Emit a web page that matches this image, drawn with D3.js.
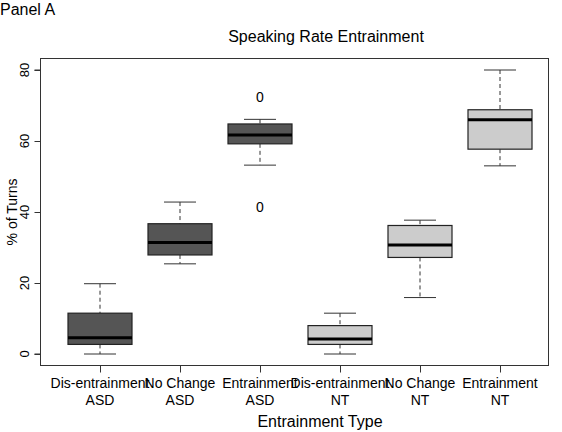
<!DOCTYPE html>
<html><head><meta charset="utf-8">
<script src="https://cdn.jsdelivr.net/npm/d3@7"></script>
<style>body{margin:0;background:#fff}text{font-family:"Liberation Sans",Arial,sans-serif;fill:#000}</style>
</head><body><svg id="c" width="562" height="432"></svg>
<script>
const categories = ["Dis-entrainment|ASD","No Change|ASD","Entrainment|ASD","Dis-entrainment|NT","No Change|NT","Entrainment|NT"];
const lowW  = [0, 25.4, 53.2, 0, 15.9, 53];
const q1    = [2.7, 27.9, 59.2, 2.7, 27.2, 57.7];
const med   = [4.6, 31.4, 61.7, 4.2, 30.7, 66.0];
const q3    = [11.5, 36.7, 64.8, 8.0, 36.2, 68.8];
const highW = [19.8, 42.8, 66.1, 11.5, 37.7, 80];
const outliers = [[],[],[72.3,41.5],[],[],[]];
const fills = ["#555555","#555555","#555555","#cccccc","#cccccc","#cccccc"];
const yTicks = [0,20,40,60,80];

const svg = d3.select("#c");
const L=40.5,R=548.5,T=58.5,B=365.5;
const y = d3.scaleLinear().domain([0,80]).range([354,70]);
const x = d3.scalePoint().domain(d3.range(6)).range([100,500]);
svg.append("rect").attr("x",L).attr("y",T).attr("width",R-L).attr("height",B-T).attr("fill","none").attr("stroke","#333");
const ya = svg.append("g").attr("transform",`translate(${L},0)`).call(d3.axisLeft(y).tickValues(yTicks).tickSize(6).tickFormat(""));
ya.select(".domain").attr("d",`M-6,${y(0)}H0V${y(80)}H-6`).attr("stroke","#333");
ya.selectAll("line").attr("stroke","#333");
yTicks.forEach(v=>svg.append("text").attr("transform",`translate(${L-12},${y(v)}) rotate(-90)`).attr("text-anchor","middle").attr("font-size",13).text(v));
const xa = svg.append("g").attr("transform",`translate(0,${B})`).call(d3.axisBottom(x).tickSize(7).tickFormat(""));
xa.select(".domain").remove();
xa.selectAll("line").attr("stroke","#333");
categories.forEach((c,i)=>{
  const p=c.split("|");
  svg.append("text").attr("x",x(i)).attr("y",388).attr("text-anchor","middle").attr("font-size",14).text(p[0]);
  svg.append("text").attr("x",x(i)).attr("y",405).attr("text-anchor","middle").attr("font-size",14).text(p[1]);
});
const bw=64, cw=32;
d3.range(6).forEach(i=>{
  const g=svg.append("g"), cx=x(i);
  g.append("line").attr("x1",cx).attr("x2",cx).attr("y1",y(highW[i])).attr("y2",y(q3[i])).attr("stroke","#333").attr("stroke-dasharray","4,3");
  g.append("line").attr("x1",cx).attr("x2",cx).attr("y1",y(q1[i])).attr("y2",y(lowW[i])).attr("stroke","#333").attr("stroke-dasharray","4,3");
  [highW[i],lowW[i]].forEach(v=>g.append("line").attr("x1",cx-cw/2).attr("x2",cx+cw/2).attr("y1",y(v)).attr("y2",y(v)).attr("stroke","#333"));
  g.append("rect").attr("x",cx-bw/2).attr("y",y(q3[i])).attr("width",bw).attr("height",y(q1[i])-y(q3[i])).attr("fill",fills[i]).attr("stroke","#222").attr("stroke-width",1.2);
  g.append("line").attr("x1",cx-bw/2).attr("x2",cx+bw/2).attr("y1",y(med[i])).attr("y2",y(med[i])).attr("stroke","#000").attr("stroke-width",3);
  outliers[i].forEach(v=>g.append("text").attr("x",cx).attr("y",y(v)+5).attr("text-anchor","middle").attr("font-size",14).text("0"));
});
svg.append("text").attr("x",326).attr("y",42).attr("text-anchor","middle").attr("font-size",16).text("Speaking Rate Entrainment");
svg.append("text").attr("x",0).attr("y",15).attr("font-size",16).text("Panel A");
svg.append("text").attr("transform","translate(17,212) rotate(-90)").attr("text-anchor","middle").attr("font-size",14).text("% of Turns");
svg.append("text").attr("x",320).attr("y",427).attr("text-anchor","middle").attr("font-size",16).text("Entrainment Type");
</script></body></html>
